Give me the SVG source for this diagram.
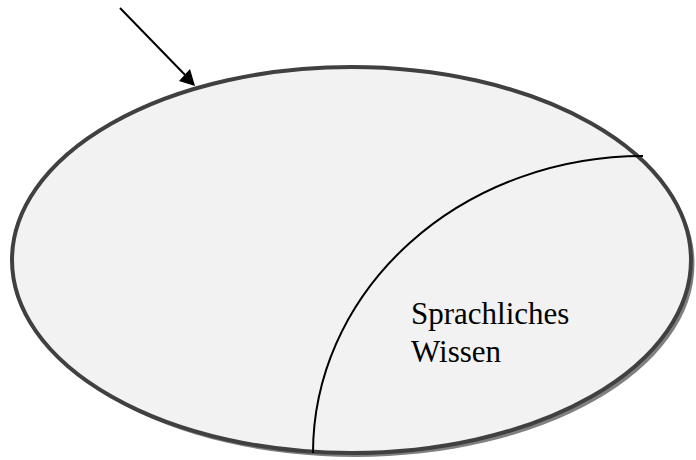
<svg xmlns="http://www.w3.org/2000/svg" width="696" height="460" viewBox="0 0 696 460">
  <style>
    .label { font-family: "Liberation Serif", "DejaVu Serif", "Times New Roman", serif; font-size: 31px; fill: #000; }
    .line { fill: none; stroke: #000; stroke-width: 2; }
  </style>
  <rect width="696" height="460" fill="#fff"/>
  <g id="wissen">
    <!-- drop shadow -->
    <ellipse cx="355" cy="264" rx="339.5" ry="193" fill="#808080"/>
    <!-- main body -->
    <ellipse cx="351.5" cy="260" rx="339.5" ry="193" fill="#f2f2f2" stroke="#404040" stroke-width="4"/>
  </g>
  <g id="sprachliches-wissen">
    <path class="line" d="M313,453 A330,297 0 0 1 643,156"/>
    <text class="label" x="411" y="324" font-family="Liberation Serif, serif">Sprachliches</text>
    <text class="label" x="411" y="362" font-family="Liberation Serif, serif">Wissen</text>
  </g>
  <g id="connectors">
    <line x1="120" y1="8" x2="189" y2="79" stroke="#000" stroke-width="2"/>
    <path d="M195,86 L179,81 L190,69 z" fill="#000"/>
  </g>
</svg>
